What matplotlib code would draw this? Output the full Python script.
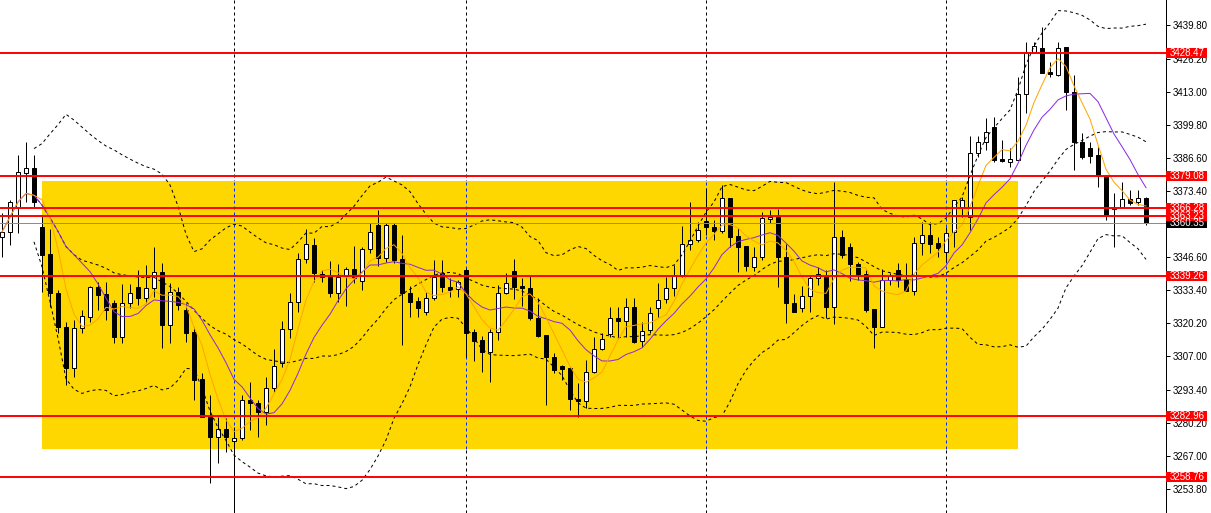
import numpy as np
import pandas as pd
import matplotlib
matplotlib.use("Agg")
import matplotlib.pyplot as plt
from matplotlib.patches import Rectangle
from matplotlib import transforms

# =========================================================
# DATA
# =========================================================
opens = [3354.8, 3356.8, 3366.4, 3380.4, 3382.4, 3358.8, 3348.0, 3332.3, 3318.7, 3302.3,
         3318.3, 3322.7, 3334.7, 3331.9, 3328.3, 3314.7, 3328.3, 3334.7, 3330.3, 3334.3,
         3340.8, 3319.5, 3332.7, 3325.5, 3316.7, 3297.9, 3283.1, 3274.6, 3277.8, 3273.0,
         3274.2, 3289.5, 3288.3, 3284.7, 3294.3, 3304.3, 3317.9, 3328.7, 3346.0, 3351.6,
         3340.0, 3339.2, 3332.3, 3339.2, 3342.0, 3337.1, 3350.0, 3359.6, 3346.4, 3359.6,
         3346.0, 3332.3, 3329.1, 3324.7, 3330.3, 3340.4, 3334.7, 3333.9, 3341.6, 3316.7,
         3313.5, 3308.7, 3316.7, 3332.3, 3341.2, 3335.1, 3334.3, 3322.3, 3315.5, 3306.7,
         3303.1, 3302.3, 3289.9, 3289.1, 3300.7, 3309.9, 3315.9, 3322.3, 3321.1, 3326.7,
         3313.1, 3317.5, 3326.3, 3329.9, 3334.3, 3339.6, 3352.0, 3353.6, 3361.2, 3358.8,
         3357.2, 3370.4, 3355.2, 3351.2, 3342.8, 3346.8, 3362.0, 3362.8, 3346.8, 3328.3,
         3326.3, 3331.1, 3338.4, 3339.2, 3326.7, 3354.8, 3350.8, 3344.0, 3340.0, 3325.9,
         3318.7, 3337.5, 3341.6, 3337.5, 3333.1, 3352.4, 3355.6, 3352.4, 3348.8, 3356.8,
         3366.8, 3362.8, 3388.4, 3392.8, 3398.9, 3386.0, 3384.8, 3385.6, 3412.1, 3428.9,
         3430.5, 3420.9, 3419.7, 3430.9, 3412.9, 3392.8, 3390.4, 3387.6, 3379.2, 3366.0,
         3366.8, 3370.0, 3368.8, 3370.4]
highs = [3364.4, 3369.6, 3387.6, 3392.8, 3387.6, 3363.6, 3358.0, 3333.5, 3320.7, 3321.5,
         3325.5, 3335.1, 3336.7, 3336.7, 3329.5, 3335.9, 3335.9, 3341.6, 3343.6, 3350.8,
         3344.4, 3336.3, 3334.7, 3328.3, 3318.7, 3300.3, 3291.5, 3282.7, 3282.3, 3278.6,
         3291.5, 3296.7, 3289.5, 3298.7, 3309.9, 3321.1, 3332.3, 3348.4, 3358.0, 3354.4,
         3341.6, 3345.2, 3344.0, 3342.8, 3351.2, 3350.8, 3360.4, 3365.6, 3360.4, 3360.4,
         3355.6, 3335.1, 3330.7, 3332.7, 3345.6, 3345.6, 3338.4, 3337.5, 3342.4, 3317.9,
         3315.1, 3317.9, 3335.5, 3340.4, 3346.0, 3338.4, 3339.2, 3330.3, 3315.5, 3308.3,
         3303.5, 3302.7, 3296.3, 3305.5, 3314.7, 3316.3, 3326.7, 3326.7, 3330.3, 3330.3,
         3320.7, 3326.7, 3336.3, 3338.8, 3343.6, 3359.2, 3368.8, 3360.8, 3374.4, 3361.6,
         3375.6, 3370.4, 3358.4, 3351.2, 3350.8, 3364.8, 3365.6, 3366.0, 3352.0, 3331.9,
         3335.1, 3339.2, 3342.8, 3341.6, 3376.8, 3357.6, 3352.4, 3344.8, 3341.6, 3325.9,
         3342.0, 3340.4, 3344.4, 3344.4, 3354.8, 3360.8, 3360.8, 3354.8, 3358.8, 3369.6,
         3370.8, 3395.2, 3395.2, 3402.5, 3402.9, 3393.6, 3390.4, 3418.9, 3432.9, 3432.9,
         3438.9, 3424.9, 3432.9, 3430.9, 3419.7, 3396.5, 3392.8, 3390.8, 3379.2, 3372.4,
         3376.8, 3373.6, 3373.6, 3370.8]
lows = [3346.8, 3351.6, 3356.4, 3368.8, 3366.8, 3332.7, 3326.7, 3316.3, 3295.5, 3298.7,
        3316.3, 3320.7, 3325.5, 3321.5, 3312.3, 3312.3, 3326.3, 3327.5, 3328.3, 3330.7,
        3310.3, 3312.3, 3325.5, 3312.7, 3289.5, 3282.7, 3256.2, 3264.2, 3268.6, 3244.6,
        3273.4, 3277.4, 3274.6, 3279.4, 3292.7, 3302.7, 3314.3, 3324.7, 3344.4, 3336.7,
        3336.7, 3330.7, 3328.7, 3327.1, 3336.3, 3333.5, 3348.4, 3343.2, 3344.8, 3344.4,
        3311.5, 3322.7, 3322.7, 3323.5, 3329.5, 3332.7, 3330.7, 3330.7, 3306.7, 3305.1,
        3300.7, 3296.7, 3313.5, 3331.9, 3329.9, 3327.1, 3321.5, 3314.7, 3287.5, 3300.3,
        3297.5, 3285.5, 3282.7, 3286.3, 3300.3, 3309.5, 3314.7, 3314.7, 3314.7, 3312.3,
        3310.7, 3316.3, 3322.7, 3328.3, 3331.1, 3338.8, 3349.6, 3352.8, 3355.6, 3353.6,
        3356.4, 3350.8, 3340.8, 3341.2, 3341.2, 3345.6, 3360.4, 3334.7, 3320.3, 3324.7,
        3324.7, 3324.7, 3335.5, 3322.3, 3319.9, 3346.4, 3337.1, 3337.5, 3324.7, 3310.3,
        3318.7, 3335.5, 3334.7, 3333.1, 3331.5, 3347.6, 3348.4, 3346.8, 3344.8, 3350.8,
        3362.8, 3357.6, 3386.8, 3389.6, 3384.8, 3384.8, 3382.8, 3385.6, 3404.5, 3428.5,
        3420.5, 3418.9, 3419.3, 3405.7, 3381.6, 3386.0, 3384.4, 3374.8, 3361.6, 3350.8,
        3366.4, 3367.6, 3367.6, 3359.6]
closes = [3356.8, 3368.8, 3380.8, 3382.4, 3368.8, 3347.6, 3332.3, 3318.7, 3302.3, 3318.3,
          3323.1, 3334.7, 3331.5, 3325.5, 3314.7, 3328.3, 3332.3, 3330.3, 3334.3, 3340.8,
          3319.5, 3332.7, 3327.5, 3316.3, 3297.5, 3282.7, 3274.6, 3277.8, 3274.6, 3274.2,
          3289.5, 3288.3, 3284.7, 3294.3, 3303.1, 3317.9, 3328.7, 3346.0, 3352.0, 3340.4,
          3338.8, 3332.3, 3338.8, 3342.0, 3338.4, 3350.0, 3356.8, 3346.4, 3359.6, 3345.6,
          3332.3, 3328.7, 3326.3, 3330.3, 3338.8, 3334.7, 3333.5, 3336.7, 3316.3, 3313.1,
          3308.7, 3316.7, 3332.3, 3336.3, 3334.7, 3334.3, 3322.3, 3315.1, 3306.7, 3301.5,
          3301.9, 3289.9, 3289.1, 3300.7, 3309.9, 3313.9, 3322.3, 3321.1, 3326.7, 3312.7,
          3317.1, 3324.3, 3329.5, 3334.3, 3339.6, 3352.0, 3353.6, 3357.6, 3358.8, 3357.2,
          3370.4, 3354.8, 3350.8, 3343.2, 3346.8, 3362.4, 3362.8, 3346.8, 3328.3, 3324.7,
          3331.1, 3338.4, 3340.0, 3326.7, 3354.8, 3347.6, 3344.0, 3340.0, 3325.5, 3318.7,
          3337.5, 3339.2, 3337.5, 3333.1, 3352.4, 3355.6, 3352.0, 3350.4, 3356.4, 3369.6,
          3369.6, 3388.4, 3392.8, 3396.9, 3385.6, 3385.2, 3386.0, 3412.1, 3428.9, 3431.3,
          3420.5, 3420.1, 3430.5, 3412.9, 3392.8, 3386.8, 3387.2, 3379.2, 3363.6, 3366.8,
          3370.0, 3368.4, 3370.4, 3360.35]

levels = [3428.47, 3379.08, 3366.28, 3363.23, 3339.26, 3282.96, 3258.76]
last_price = 3360.35
session_bars = [29, 58, 88, 118]
zone_bars = [5, 127]
zone_prices = [3269.7, 3377.2]
tick_prices = [3439.80, 3426.20, 3413.00, 3399.80, 3386.60, 3373.40, 3346.60,
               3333.40, 3320.20, 3307.00, 3293.40, 3280.20, 3267.00, 3253.80]

# =========================================================
# INDICATORS
# =========================================================
df = pd.DataFrame({"open": opens, "high": highs, "low": lows, "close": closes})
df["ma5"] = df["close"].rolling(5, min_periods=1).mean()
df["ma10"] = df["close"].rolling(10, min_periods=1).mean()
mid = df["close"].rolling(20, min_periods=5).mean()
sd = df["close"].rolling(20, min_periods=5).std(ddof=0)
df["bb_mid"] = mid
df["bb_up"] = mid + 2 * sd
df["bb_lo"] = mid - 2 * sd

x = np.arange(len(df))
px = 0.72  # one pixel in points

# =========================================================
# PLOT
# =========================================================
plt.rcParams["font.family"] = ["Liberation Sans", "DejaVu Sans"]

fig = plt.figure(figsize=(12.11, 5.13), dpi=100)
ax = fig.add_axes([0, 0, 1166 / 1211, 1])
ax.set_xlim(-0.25, 145.5)
ax.set_ylim(3244.18, 3449.74)

# zone
ax.add_patch(Rectangle((zone_bars[0], zone_prices[0]), zone_bars[1] - zone_bars[0],
                       zone_prices[1] - zone_prices[0], facecolor="#FFD700",
                       edgecolor="none", zorder=0.5))

# session separators
for b in session_bars:
    ax.axvline(b, color="black", lw=px, ls=(0, (3, 3)), zorder=0.3)
    ax.vlines(b, zone_prices[0], zone_prices[1], color="#0028FF", lw=px,
              ls=(0, (3, 3)), zorder=0.6)

# candles
up = df["close"] >= df["open"]
ax.vlines(x, df["low"], df["high"], color="black", lw=px, zorder=2)
body_bot = np.minimum(df["open"], df["close"])
body_h = np.maximum(np.abs(df["close"] - df["open"]), 0.4)
ax.bar(x, body_h, bottom=body_bot, width=0.55,
       color=np.where(up, "white", "black"), edgecolor="black", linewidth=px, zorder=2.1)

# indicators
ax.plot(x, df["bb_up"], color="black", lw=px, ls=(0, (3, 3)), zorder=2.5)
ax.plot(x, df["bb_mid"], color="black", lw=px, ls=(0, (3, 3)), zorder=2.5)
ax.plot(x, df["bb_lo"], color="black", lw=px, ls=(0, (3, 3)), zorder=2.5)
ax.plot(x, df["ma10"], color="#8A2BE2", lw=px, zorder=2.6)
ax.plot(x, df["ma5"], color="#FFA500", lw=px, zorder=2.7)

# levels
ax.axhline(last_price, color="#8C8C8C", lw=px, zorder=3)
for lv in levels:
    ax.axhline(lv, color="#FF0000", lw=1.4, zorder=3.1)

# axis
for s in ["left", "top", "bottom"]:
    ax.spines[s].set_visible(False)
ax.spines["right"].set_linewidth(px)
ax.set_xticks([])
ax.yaxis.tick_right()
ax.set_yticks(tick_prices)
ax.set_yticklabels([f"{v:.2f}" for v in tick_prices])
ax.tick_params(axis="y", length=3, width=px, pad=2, labelsize=7, colors="black")

# price labels
trans = transforms.blended_transform_factory(ax.transAxes, ax.transData)
box_w = 41 / 1166
box_h = 10 * (3449.74 - 3244.18) / 513


def price_label(val, color):
    ax.add_patch(Rectangle((1.0, val - box_h / 2), box_w, box_h, transform=trans,
                           facecolor=color, edgecolor="none", clip_on=False, zorder=5))
    ax.text(1.0 + 4 / 1166, val, f"{val:.2f}", transform=trans, color="white",
            fontsize=7, va="center", ha="left", clip_on=False, zorder=6)


price_label(last_price, "black")
for lv in levels:
    price_label(lv, "#FF0000")

plt.savefig("out.png", dpi=100)
plt.close()
